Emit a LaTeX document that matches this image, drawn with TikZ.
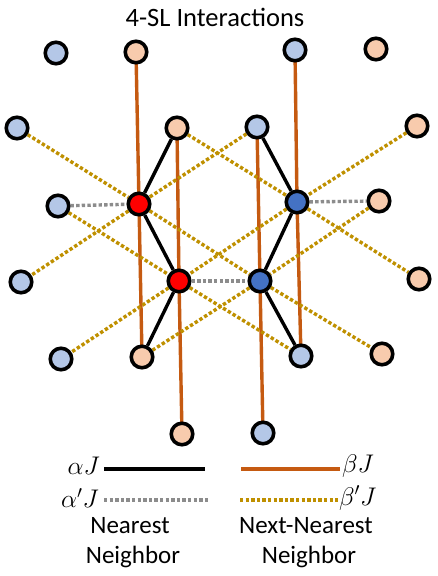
\RequirePackage{fix-cm}
\documentclass[tikz,border=0pt]{standalone}
\usepackage{fontspec}
\setmainfont{Carlito}
\usetikzlibrary{backgrounds}
\definecolor{lblue}{HTML}{B4C7E7}
\definecolor{lpink}{HTML}{F8CBAD}
\definecolor{dblue}{HTML}{4472C4}
\definecolor{bred}{HTML}{FF0000}
\definecolor{orangeline}{HTML}{C55A11}
\definecolor{goldline}{HTML}{BF9000}
\definecolor{grayline}{HTML}{8C8C8C}
\begin{document}
\begin{tikzpicture}[x=1pt,y=-1pt,
  site/.style={circle,draw=black,line width=3.6pt,minimum size=21.5pt,inner sep=0pt},
  bsite/.style={site,fill=lblue},
  psite/.style={site,fill=lpink},
  rsite/.style={site,fill=bred},
  dsite/.style={site,fill=dblue},
  nn/.style={black,line width=3.4pt},
  nnp/.style={grayline,line width=3.4pt,dash pattern=on 3.4pt off 2.2pt},
  nnn/.style={orangeline,line width=3.4pt},
  nnnp/.style={goldline,line width=3.4pt,dash pattern=on 3.4pt off 2.2pt},
  lbl/.style={inner sep=0pt,font=\fontsize{25}{29}\selectfont},
  tlbl/.style={inner sep=0pt,font=\fontsize{26.5}{30}\selectfont},
  mlbl/.style={inner sep=0pt,font=\fontsize{25.5}{29}\selectfont}
]
\useasboundingbox (0,0) rectangle (437,576);
\node[tlbl] (title) at (215,17) {4-SL Interactions};
% sites
\node[bsite] (b1) at (56,53) {};
\node[psite] (p1) at (136,52) {};
\node[bsite] (b2) at (295,50) {};
\node[psite] (p2) at (376,49) {};
\node[bsite] (b3) at (17,128) {};
\node[psite] (p3) at (177,128) {};
\node[bsite] (b4) at (257,127) {};
\node[psite] (p4) at (417,126) {};
\node[bsite] (b5) at (58,206) {};
\node[rsite] (R1) at (139,204) {};
\node[dsite] (D1) at (297,202) {};
\node[psite] (p5) at (379,201) {};
\node[bsite] (b6) at (21,282) {};
\node[rsite] (R2) at (179,281) {};
\node[dsite] (D2) at (260,281) {};
\node[psite] (p6) at (419,279) {};
\node[bsite] (b7) at (61,359) {};
\node[psite] (p7) at (142,357) {};
\node[bsite] (b8) at (301,356) {};
\node[psite] (p8) at (382,354) {};
\node[psite] (p9) at (182,434) {};
\node[bsite] (b9) at (263,433) {};
% bonds behind sites
\begin{scope}[on background layer]
  % next-nearest, vertical (beta J)
  \draw[nnn] (p1.center) -- (R1.center) -- (p7.center);
  \draw[nnn] (p3.center) -- (R2.center) -- (p9.center);
  \draw[nnn] (b4.center) -- (D2.center) -- (b9.center);
  \draw[nnn] (b2.center) -- (D1.center) -- (b8.center);
  % next-nearest, dotted (beta' J)
  \draw[nnnp] (b3) -- (R1);
  \draw[nnnp] (b4) -- (R1);
  \draw[nnnp] (R1) -- (b6);
  \draw[nnnp] (R1) -- (D2);
  \draw[nnnp] (p3) -- (D1);
  \draw[nnnp] (p4) -- (D1);
  \draw[nnnp] (D1) -- (R2);
  \draw[nnnp] (D1) -- (p6);
  \draw[nnnp] (b5) -- (R2);
  \draw[nnnp] (R2) -- (b7);
  \draw[nnnp] (R2) -- (b8);
  \draw[nnnp] (p5) -- (D2);
  \draw[nnnp] (D2) -- (p7);
  \draw[nnnp] (D2) -- (p8);
  % nearest (alpha J)
  \draw[nn] (R1) -- (p3);
  \draw[nn] (R1) -- (R2);
  \draw[nn] (R2) -- (p7);
  \draw[nn] (D1) -- (b4);
  \draw[nn] (D1) -- (D2);
  \draw[nn] (D2) -- (b8);
  % nearest (alpha' J)
  \draw[nnp] (b5) -- (R1);
  \draw[nnp] (R2) -- (D2);
  \draw[nnp] (D1) -- (p5);
\end{scope}
% legend
\coordinate (la1) at (104,469);
\coordinate (la2) at (205,469);
\coordinate (lb1) at (241,469);
\coordinate (lb2) at (340,469);
\coordinate (lc1) at (104,500);
\coordinate (lc2) at (208,500);
\coordinate (ld1) at (240,500);
\coordinate (ld2) at (338,500);
\draw[nn] (la1) -- (la2);
\draw[nnn] (lb1) -- (lb2);
\draw[nnp] (lc1) -- (lc2);
\draw[nnnp] (ld1) -- (ld2);
\node[mlbl,anchor=east] (aJ) at (100,466) {$\alpha J$};
\node[mlbl,anchor=west] (bJ) at (342,466) {$\beta J$};
\node[mlbl,anchor=east] (apJ) at (99,498) {$\alpha' J$};
\node[mlbl,anchor=west] (bpJ) at (339,498) {$\beta' J$};
\node[lbl] (n1) at (130,526) {Nearest};
\node[lbl] (n2) at (133,557) {Neighbor};
\node[lbl] (n3) at (306,526) {Next-Nearest};
\node[lbl] (n4) at (309,557) {Neighbor};
\end{tikzpicture}
\end{document}
